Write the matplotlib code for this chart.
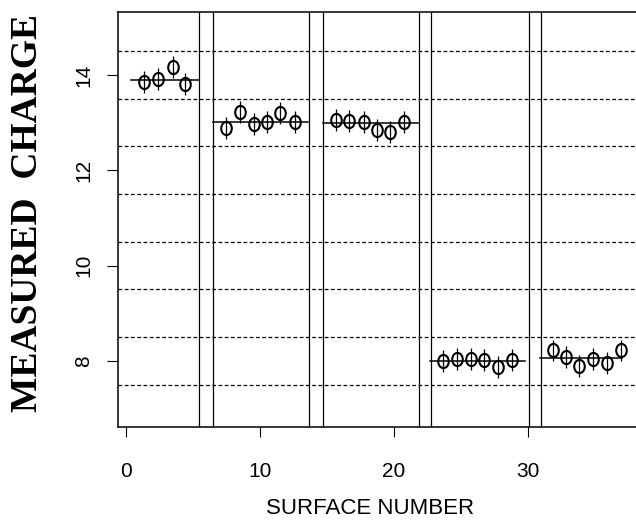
"""
Measured charge per surface, grouped by sample
"""

import matplotlib
matplotlib.use('Agg')
import matplotlib.pyplot as plt
from matplotlib.path import Path
from matplotlib.transforms import Affine2D

# surface numbers and measured charge, one list per group
group1_x = [1.4, 2.4, 3.5, 4.45]
group1_y = [13.85, 13.91, 14.17, 13.80]
group2_x = [7.5, 8.55, 9.55, 10.55, 11.55, 12.6]
group2_y = [12.89, 13.22, 12.97, 13.01, 13.20, 13.02]
group3_x = [15.7, 16.7, 17.75, 18.75, 19.75, 20.8]
group3_y = [13.06, 13.04, 13.01, 12.85, 12.80, 13.01]
group4_x = [23.7, 24.7, 25.75, 26.75, 27.8, 28.8]
group4_y = [8.00, 8.05, 8.04, 8.02, 7.88, 8.02]
group5_x = [31.85, 32.85, 33.85, 34.85, 35.9, 36.95]
group5_y = [8.22, 8.08, 7.89, 8.04, 7.96, 8.22]
error = 0.23

# group means and the span of each mean line
group_means = [13.90, 13.02, 13.00, 8.00, 8.06]
mean_start = [0.4, 6.5, 14.7, 22.7, 30.9]
mean_end = [5.5, 13.6, 21.8, 29.8, 37.0]

# surface numbers of the separator lines between groups
separators = [5.5, 6.5, 13.65, 14.7, 21.85, 22.8, 30.1, 31.0]
# dotted reference levels
ref_levels = [7.5, 8.5, 9.5, 10.5, 11.5, 12.5, 13.5, 14.5]

y_ticks = [8, 10, 12, 14]
x_ticks = [0, 10, 20, 30]

groups_x = [group1_x, group2_x, group3_x, group4_x, group5_x]
groups_y = [group1_y, group2_y, group3_y, group4_y, group5_y]

# tall ellipse marker
ellipse = Path.unit_circle().transformed(Affine2D().scale(0.8, 1.0))

fig = plt.figure(figsize=(6.36, 5.27), dpi=100)
ax = fig.add_axes([118 / 636, 100 / 527, 518 / 636, 415 / 527])

for lvl in ref_levels:
    ax.axhline(lvl, color='black', lw=0.9, ls=(0, (3, 2)), zorder=1)
for s in separators:
    ax.axvline(s, color='black', lw=0.9, zorder=1)

for m, x0, x1 in zip(group_means, mean_start, mean_end):
    ax.plot([x0, x1], [m, m], color='black', lw=1.1, zorder=2)

for gx, gy in zip(groups_x, groups_y):
    ax.errorbar(gx, gy, yerr=error, fmt='none', ecolor='black',
                elinewidth=0.9, capsize=0, zorder=3)
    ax.plot(gx, gy, ls='none', marker=ellipse, markersize=9.5,
            markerfacecolor='none', markeredgecolor='black',
            markeredgewidth=1.5, zorder=4)

ax.set_xlim(-0.575, 38.08)
ax.set_ylim(6.615, 15.32)

ax.spines['right'].set_visible(False)
for side in ['left', 'bottom', 'top']:
    ax.spines[side].set_linewidth(1.1)

ax.set_xticks(x_ticks)
ax.set_yticks(y_ticks)
ax.tick_params(axis='x', direction='out', length=7, width=0.8, pad=18,
               labelsize=15)
ax.tick_params(axis='y', direction='out', length=8, width=0.8, pad=10,
               labelsize=15)
for lab in ax.get_xticklabels() + ax.get_yticklabels():
    lab.set_family('Liberation Sans')
for lab in ax.get_yticklabels():
    lab.set_rotation(90)
    lab.set_va('center')

fig.text(28 / 636, 1 - 213 / 527, 'MEASURED  CHARGE', rotation=90,
         ha='center', va='center', fontsize=27, fontweight='bold',
         family='Liberation Serif')
fig.text(370 / 636, 1 - 508 / 527, 'SURFACE NUMBER', ha='center',
         va='center', fontsize=16, family='Liberation Sans')

fig.savefig('out.png', dpi=100)
